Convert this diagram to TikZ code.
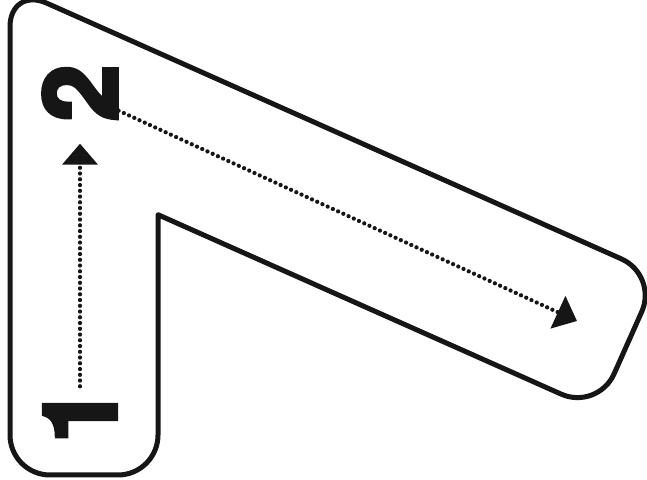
\documentclass[tikz,border=0pt]{standalone}
\usepackage{fontspec}
\usepackage{xcolor}
\usetikzlibrary{arrows.meta}
\newfontfamily\digitfont{TeX Gyre Heros}[FakeBold=4]
\definecolor{ink}{HTML}{161616}

\begin{document}
\begin{tikzpicture}[x=0.2mm, y=-0.2mm,
    every node/.style={font=\digitfont\bfseries\fontsize{58}{58}\selectfont, color=ink, inner sep=0pt, rotate=90},
    outline/.style={line width=1mm, color=ink, line join=round},
    trail/.style={color=ink, line width=0.85mm, line cap=round, dash pattern=on 0pt off 1.15mm, -{Triangle[length=4.2mm, width=7mm]}}]
  \useasboundingbox (0,0) rectangle (647,480);
  % the bent band
  \draw[outline, rounded corners=8mm] (10,475) -- (158,475) -- (158,345) [sharp corners] -- (158,214.7) -- (380,313.5) [rounded corners=8mm] -- (597.8,410.4) -- (658,275.2) -- (10,-13.2) -- cycle;
  \node (two) at (80,93) {2};
  \node (one) at (80,415) {1};
  \coordinate (goal) at (577,321);
  \draw[trail, shorten >=4.4mm] (one) -- (two);
  \draw[trail, shorten <=0.3mm] (two) -- (goal);
\end{tikzpicture}
\end{document}
